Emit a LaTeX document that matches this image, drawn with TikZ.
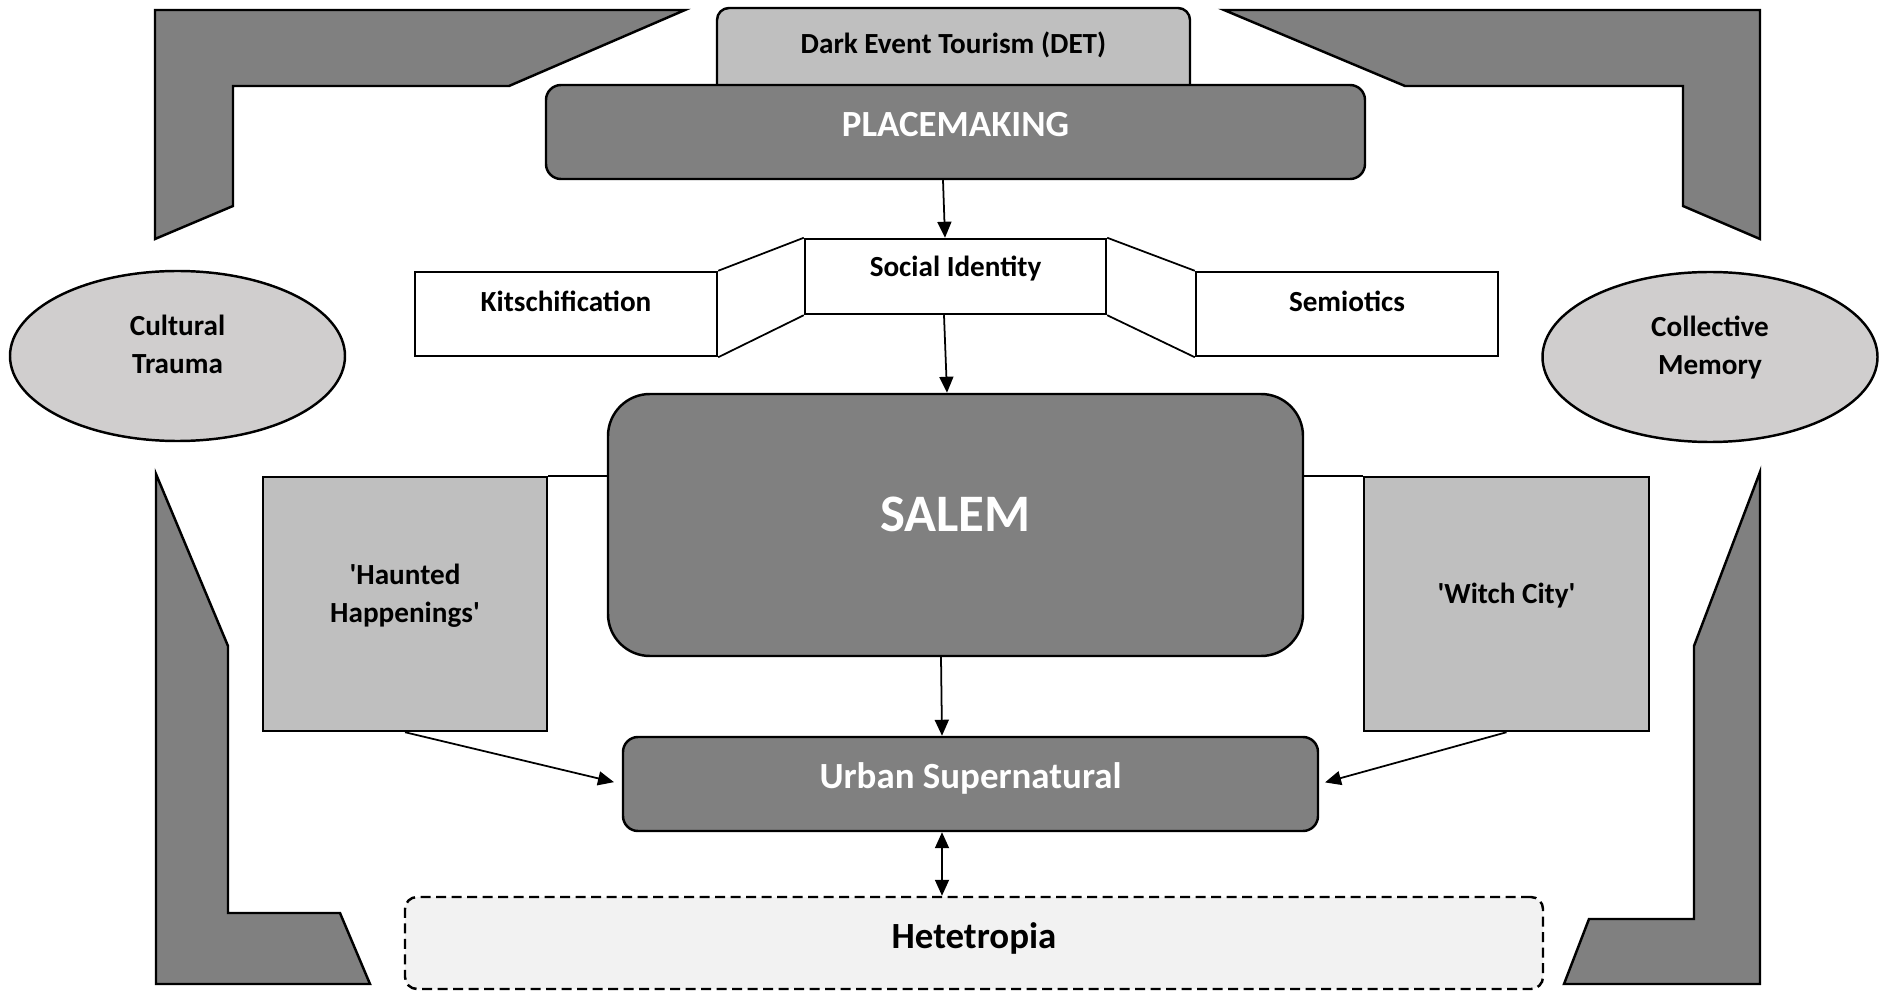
\documentclass[tikz,border=0pt]{standalone}
\usepackage{fontspec}
\setmainfont{Carlito}
\usetikzlibrary{arrows.meta,positioning,shapes.geometric,calc}
\definecolor{framegray}{HTML}{808080}
\definecolor{tabgray}{HTML}{BFBFBF}
\definecolor{ovalgray}{HTML}{D0CECE}
\definecolor{palegray}{HTML}{F2F2F2}
\newcommand{\bodyfont}{\fontsize{16.6}{21.5}\selectfont\bfseries}
\newcommand{\keyfont}{\fontsize{21}{25}\selectfont\bfseries}
\newcommand{\cityfont}{\fontsize{30}{36}\selectfont\bfseries}
\tikzset{
  lift/.style={execute at end node={\rule[-#1]{0pt}{0pt}}},
  lift/.default=0.42cm,
  conceptbox/.style={
    rectangle, draw, line width=1.4pt, fill=white,
    minimum width=6.04cm, minimum height=1.68cm, align=center,
    font=\bodyfont, lift
  },
  themebox/.style={
    rectangle, draw, line width=1.4pt, fill=tabgray,
    minimum width=5.7cm, minimum height=5.08cm, align=center,
    font=\bodyfont, lift
  },
  keybox/.style={
    rectangle, rounded corners=0.3cm, draw, line width=1.4pt, fill=framegray,
    align=center, font=\keyfont, text=white, lift
  },
  oval/.style={
    ellipse, draw, line width=1.4pt, fill=ovalgray, inner sep=0pt,
    minimum width=6.7cm, minimum height=3.4cm, align=center,
    font=\bodyfont, lift=0.46cm
  },
  frame/.style={draw, line width=1.4pt, fill=framegray},
  arrow/.style={-{Triangle[length=0.32cm,width=0.28cm]}, line width=1pt},
  twoway/.style={{Triangle[length=0.32cm,width=0.28cm]}-{Triangle[length=0.32cm,width=0.28cm]}, line width=1pt},
  link/.style={line width=1pt}
}

\begin{document}
\begin{tikzpicture}
\path[use as bounding box, fill=white] (0,0) rectangle (37.72,-19.84);
% corner frames
\draw[frame] (3.1,-0.2) -- (13.7,-0.2) -- (10.18,-1.72) -- (4.66,-1.72) -- (4.66,-4.12) -- (3.1,-4.78) -- cycle;
\draw[frame] (24.48,-0.2) -- (35.2,-0.2) -- (35.2,-4.78) -- (33.66,-4.12) -- (33.66,-1.72) -- (28.1,-1.72) -- cycle;
\draw[frame] (3.12,-9.48) -- (4.56,-12.92) -- (4.56,-18.26) -- (6.8,-18.26) -- (7.4,-19.68) -- (3.12,-19.68) -- cycle;
\draw[frame] (35.2,-9.44) -- (35.2,-19.68) -- (31.28,-19.68) -- (31.78,-18.38) -- (33.88,-18.38) -- (33.88,-12.92) -- cycle;
% top
\node[conceptbox, fill=tabgray, rounded corners=0.24cm, minimum width=9.46cm, minimum height=1.84cm, lift=0.46cm] (det) at (19.07,-1.08) {Dark Event Tourism (DET)};
\node[keybox, minimum width=16.38cm, minimum height=1.88cm, text depth=0.3cm] (place) at (19.11,-2.64) {PLACEMAKING};
\node[conceptbox, minimum width=6.02cm, minimum height=1.5cm] (social) at (19.11,-5.53) {Social Identity};
\node[conceptbox, lift=0.5cm] (kitsch) at (11.32,-6.28) {Kitschification};
\node[conceptbox, lift=0.5cm] (semio) at (26.94,-6.28) {Semiotics};
\node[oval] (trauma) at (3.55,-7.12) {Cultural\\Trauma};
\node[oval] (memory) at (34.2,-7.14) {Collective\\Memory};
% centre
\node[keybox, rounded corners=0.84cm, minimum width=13.9cm, minimum height=5.24cm, font=\cityfont] (salem) at (19.11,-10.5) {SALEM};
\node[themebox, minimum width=5.68cm] (haunted) at (8.1,-12.08) {\textquotesingle Haunted\\Happenings\textquotesingle};
\node[themebox] (witch) at (30.13,-12.08) {\textquotesingle Witch City\textquotesingle};
\node[keybox, minimum width=13.9cm, minimum height=1.88cm, text depth=0.32cm] (urban) at (19.41,-15.68) {Urban Supernatural};
\node[keybox, fill=palegray, text=black, rounded corners=0.24cm, dash pattern=on 0.2cm off 0.11cm, minimum width=22.76cm, minimum height=1.84cm, text depth=0.31cm] (hetero) at (19.48,-18.86) {Hetetropia};
% connectors
\draw[arrow] ([xshift=-0.25cm]place.south) -- ([xshift=-0.21cm]social.north);
\draw[arrow] ([xshift=-0.23cm]social.south) -- ([xshift=-0.17cm]salem.north);
\draw[arrow] ([xshift=-0.29cm]salem.south) -- ([xshift=-0.57cm]urban.north);
\draw[twoway] ([xshift=-0.57cm]urban.south) -- ([xshift=-0.64cm]hetero.north);
\draw[arrow, shorten >=0.16cm] (haunted.south) -- (urban.west);
\draw[arrow, shorten >=0.12cm] (witch.south) -- (urban.east);
\draw[link] (haunted.north east) -- (haunted.north east -| salem.west);
\draw[link] (witch.north west) -- (witch.north west -| salem.east);
\draw[link] (kitsch.north east) -- (social.north west);
\draw[link] (kitsch.south east) -- (social.south west);
\draw[link] (social.north east) -- (semio.north west);
\draw[link] (social.south east) -- (semio.south west);
\end{tikzpicture}
\end{document}
